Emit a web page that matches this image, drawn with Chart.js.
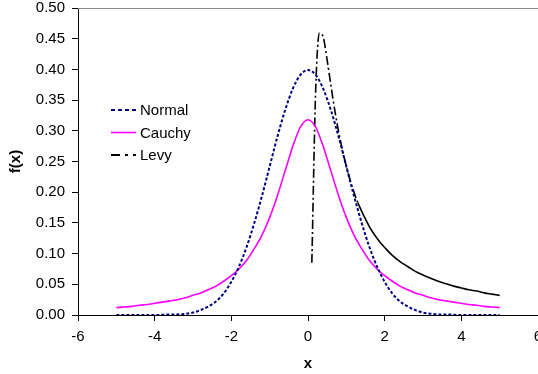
<!DOCTYPE html>
<html>
<head>
<meta charset="utf-8">
<script src="https://cdn.jsdelivr.net/npm/chart.js@4.4.1/dist/chart.umd.min.js"></script>
<style>
	html, body { margin: 0; padding: 0; background: #fff; overflow: hidden; }
	#wrap { position: relative; width: 538px; height: 374px; }
</style>
</head>
<body>
<div id="wrap"><canvas id="pdfChart"></canvas></div>
<script>
// x grid shared by Normal and Cauchy (step 0.2, -5..5)
var xValues = [-5.0,-4.8,-4.6,-4.4,-4.2,-4.0,-3.8,-3.6,-3.4,-3.2,-3.0,-2.8,-2.6,-2.4,-2.2,-2.0,-1.8,-1.6,-1.4,-1.2,-1.0,-0.8,-0.6,-0.4,-0.2,
	0.0,0.2,0.4,0.6,0.8,1.0,1.2,1.4,1.6,1.8,2.0,2.2,2.4,2.6,2.8,3.0,3.2,3.4,3.6,3.8,4.0,4.2,4.4,4.6,4.8,5.0];
var normalValues = [0,0,0,0,0,0.0001,0.0003,0.001,0.001,0.002,0.004,0.008,0.014,0.022,0.035,0.054,0.079,0.111,0.150,0.194,0.242,0.290,0.333,0.368,0.391,
	0.399,0.391,0.368,0.333,0.290,0.242,0.194,0.150,0.111,0.079,0.054,0.035,0.022,0.014,0.008,0.004,0.002,0.001,0.001,0.0003,0.0001,0,0,0,0,0];
var cauchyValues = [0.012,0.013,0.014,0.016,0.017,0.019,0.021,0.023,0.025,0.028,0.032,0.036,0.041,0.047,0.055,0.064,0.075,0.089,0.108,0.130,0.159,0.194,0.234,0.274,0.306,
	0.318,0.306,0.274,0.234,0.194,0.159,0.130,0.108,0.089,0.075,0.064,0.055,0.047,0.041,0.036,0.032,0.028,0.025,0.023,0.021,0.019,0.017,0.016,0.014,0.013,0.012];
// Levy starts at 0.1
var levyX = [0.1,0.2,0.3,0.4,0.5,0.6,0.7,0.8,0.9,1.0,1.1,1.2,1.3,1.4,1.5,1.6,1.7,1.8,1.9,2.0,
	2.2,2.4,2.6,2.8,3.0,3.2,3.4,3.6,3.8,4.0,4.2,4.4,4.6,4.8,5.0];
var levyValues = [0.085,0.366,0.459,0.452,0.415,0.373,0.333,0.298,0.268,0.242,0.220,0.200,0.183,0.169,0.156,0.144,0.134,0.125,0.117,0.110,
	0.097,0.087,0.079,0.071,0.065,0.060,0.055,0.051,0.047,0.044,0.041,0.039,0.036,0.034,0.032];
var seriesNames = ['Normal','Cauchy','Levy'];
var xTicks = [-6,-4,-2,0,2,4,6];

function toPoints(xs, ys) {
	var pts = [];
	for (var i = 0; i < xs.length; i++) { pts.push({x: xs[i], y: ys[i]}); }
	return pts;
}

var FONT = 'Liberation Sans, Arial, sans-serif';

// legend drawn inside the plot area, like the excel one
var insideLegend = {
	id: 'insideLegend',
	afterDatasetsDraw: function(chart) {
		var ctx = chart.ctx;
		ctx.save();
		chart.data.datasets.forEach(function(ds, i) {
			var y = 110 + i * 22.5;
			ctx.beginPath();
			ctx.strokeStyle = ds.borderColor;
			ctx.lineWidth = ds.legendWidth || ds.borderWidth;
			ctx.setLineDash(ds.legendDash || []);
			ctx.moveTo(111, y);
			ctx.lineTo(136, y);
			ctx.stroke();
			ctx.setLineDash([]);
			ctx.fillStyle = '#000';
			ctx.font = '15px ' + FONT;
			ctx.textBaseline = 'middle';
			ctx.fillText(ds.label, 140, y + 1);
		});
		ctx.restore();
	}
};

// grey plot-area frame (top edge; right edge is off canvas)
var plotFrame = {
	id: 'plotFrame',
	beforeDatasetsDraw: function(chart) {
		var a = chart.chartArea, ctx = chart.ctx;
		ctx.save();
		ctx.strokeStyle = '#8c8c8c';
		ctx.lineWidth = 1;
		ctx.beginPath();
		ctx.moveTo(a.left, a.top + 0.5);
		ctx.lineTo(a.right, a.top + 0.5);
		ctx.stroke();
		ctx.restore();
	}
};

var pdfChart = new Chart(document.getElementById('pdfChart'), {
	type: 'line',
	data: {
		datasets: [{
			label: seriesNames[0],
			data: toPoints(xValues, normalValues),
			borderColor: '#000080',
			borderWidth: 2,
			borderDash: [3, 2],
			legendDash: [4, 3],
			pointRadius: 0,
			cubicInterpolationMode: 'monotone'
		}, {
			label: seriesNames[1],
			data: toPoints(xValues, cauchyValues),
			borderColor: '#ff00ff',
			borderWidth: 1.6,
			pointRadius: 0,
			cubicInterpolationMode: 'monotone'
		}, {
			label: seriesNames[2],
			data: toPoints(levyX, levyValues),
			borderColor: '#000000',
			borderWidth: 1.6,
			legendWidth: 2.2,
			legendDash: [9, 5, 3, 5],
			pointRadius: 0,
			cubicInterpolationMode: 'monotone',
			segment: {
				// excel restarts the dash on each short segment so the tail looks solid
				borderDash: function(c) { return c.p0.parsed.x < 1.3 ? [9, 3, 2, 3] : []; }
			}
		}]
	},
	plugins: [plotFrame, insideLegend],
	options: {
		responsive: true,
		maintainAspectRatio: false,
		animation: false,
		layout: { padding: { top: 8, right: 0, bottom: 0, left: 0 } },
		plugins: {
			legend: { display: false },
			tooltip: { enabled: false }
		},
		scales: {
			x: {
				type: 'linear',
				min: -6,
				max: 6,
				afterBuildTicks: function(s) { s.ticks = xTicks.map(function(v) { return {value: v}; }); },
				afterFit: function(s) { s.height = 59; s.paddingRight = 0; s.paddingLeft = 0; },
				border: { color: '#000', width: 1 },
				grid: { drawOnChartArea: false, color: '#000', tickLength: 6 },
				ticks: { color: '#000', padding: 7, maxRotation: 0, font: { family: FONT, size: 15 } },
				title: { display: true, text: 'x', color: '#000', padding: { top: 0, bottom: 1 }, font: { family: FONT, size: 15, weight: 'bold' } }
			},
			y: {
				min: 0,
				max: 0.5,
				afterFit: function(s) { s.width = 78; s.paddingTop = 0; s.paddingBottom = 0; },
				border: { color: '#000', width: 1 },
				grid: { drawOnChartArea: false, color: '#000', tickLength: 6 },
				ticks: {
					stepSize: 0.05,
					color: '#000',
					padding: 7,
					font: { family: FONT, size: 15 },
					callback: function(v) { return v.toFixed(2); }
				},
				title: { display: true, text: 'f(x)', color: '#000', padding: { top: 7, bottom: 0 }, font: { family: FONT, size: 15, weight: 'bold' } }
			}
		}
	}
});
</script>
</body>
</html>
